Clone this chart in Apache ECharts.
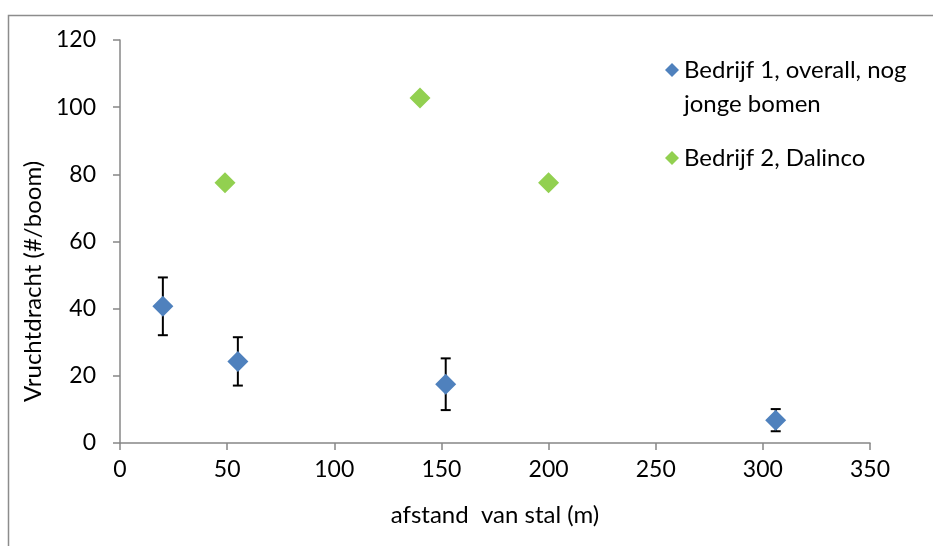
<!DOCTYPE html>
<html>
<head>
<meta charset="utf-8">
<script src="https://cdn.jsdelivr.net/npm/echarts@6/dist/echarts.min.js"></script>
<style>
  html, body { margin: 0; padding: 0; background: #fff; }
  #chart { width: 933px; height: 546px; }
</style>
</head>
<body>
<div id="chart"></div>
<script>
// bedrijf 1: afstand, vruchtdracht, fout (+/-)
var bedrijf1X = [20, 55, 152, 306]
var bedrijf1Y = [40.7, 24.3, 17.5, 6.8]
var bedrijf1Err = [8.6, 7.2, 7.7, 3.3]
// bedrijf 2
var bedrijf2X = [49, 140, 200]
var bedrijf2Y = [77.5, 102.7, 77.5]

var naam1 = 'Bedrijf 1, overall, nog jonge bomen'
var naam2 = 'Bedrijf 2, Dalinco'

var font = 'Lato, "Noto Sans", sans-serif'
var axisColor = '#878787'

var scatter1 = bedrijf1X.map(function (x, i) { return [x, bedrijf1Y[i]] })
var scatter2 = bedrijf2X.map(function (x, i) { return [x, bedrijf2Y[i]] })
var errData = bedrijf1X.map(function (x, i) {
  return [x, bedrijf1Y[i] - bedrijf1Err[i], bedrijf1Y[i] + bedrijf1Err[i]]
})

var chart = echarts.init(document.getElementById('chart'))

chart.setOption({
  animation: false,
  backgroundColor: '#fff',
  textStyle: { fontFamily: font },
  graphic: [{
    type: 'rect',
    left: 6,
    top: 13,
    shape: { width: 1000, height: 1000 },
    style: { fill: 'none', stroke: '#8c8c8c', lineWidth: 1.5 },
    silent: true,
    z: -1
  }],
  grid: {
    left: 120,
    right: 63,
    top: 40,
    bottom: 103
  },
  legend: {
    orient: 'vertical',
    left: 660,
    top: 14,
    itemGap: 20,
    itemWidth: 14,
    itemHeight: 14,
    itemStyle: { borderWidth: 0 },
    data: [
      { name: naam1, icon: 'diamond' },
      { name: naam2, icon: 'diamond' }
    ],
    formatter: function (name) {
      if (name === naam1) {
        return '\nBedrijf 1, overall, nog\njonge bomen'
      }
      return name
    },
    textStyle: {
      fontFamily: font,
      fontSize: 24,
      color: '#000',
      lineHeight: 34
    }
  },
  xAxis: {
    type: 'value',
    min: 0,
    max: 350,
    interval: 50,
    name: 'afstand  van stal (m)',
    nameLocation: 'middle',
    nameGap: 60,
    nameTextStyle: { fontFamily: font, fontSize: 24, color: '#000' },
    splitLine: { show: false },
    axisLine: { lineStyle: { color: axisColor, width: 1.5 } },
    axisTick: { show: true, length: 7, lineStyle: { color: axisColor, width: 1.5 } },
    axisLabel: { fontFamily: font, fontSize: 23, color: '#000', margin: 15 }
  },
  yAxis: {
    type: 'value',
    min: 0,
    max: 120,
    interval: 20,
    name: 'Vruchtdracht (#/boom)',
    nameLocation: 'middle',
    nameGap: 71,
    nameTextStyle: { fontFamily: font, fontSize: 24, color: '#000', padding: [0, 80, 0, 0] },
    splitLine: { show: false },
    axisLine: { show: true, lineStyle: { color: axisColor, width: 1.5 } },
    axisTick: { show: true, length: 7, lineStyle: { color: axisColor, width: 1.5 } },
    axisLabel: { fontFamily: font, fontSize: 23, color: '#000', margin: 24 }
  },
  series: [
    {
      name: 'fout',
      type: 'custom',
      data: errData,
      z: 1,
      silent: true,
      renderItem: function (params, api) {
        var x = api.value(0)
        var lo = api.coord([x, api.value(1)])
        var hi = api.coord([x, api.value(2)])
        var cap = 5
        var st = { stroke: '#000', lineWidth: 2 }
        return {
          type: 'group',
          children: [
            { type: 'line', shape: { x1: lo[0], y1: lo[1], x2: hi[0], y2: hi[1] }, style: st },
            { type: 'line', shape: { x1: lo[0] - cap, y1: lo[1], x2: lo[0] + cap, y2: lo[1] }, style: st },
            { type: 'line', shape: { x1: hi[0] - cap, y1: hi[1], x2: hi[0] + cap, y2: hi[1] }, style: st }
          ]
        }
      }
    },
    {
      name: naam1,
      type: 'scatter',
      symbol: 'diamond',
      symbolSize: 21,
      z: 3,
      itemStyle: { color: '#4F81BD', opacity: 1 },
      data: scatter1
    },
    {
      name: naam2,
      type: 'scatter',
      symbol: 'diamond',
      symbolSize: 21,
      z: 3,
      itemStyle: { color: '#92D050', opacity: 1 },
      data: scatter2
    }
  ]
})
</script>
</body>
</html>
